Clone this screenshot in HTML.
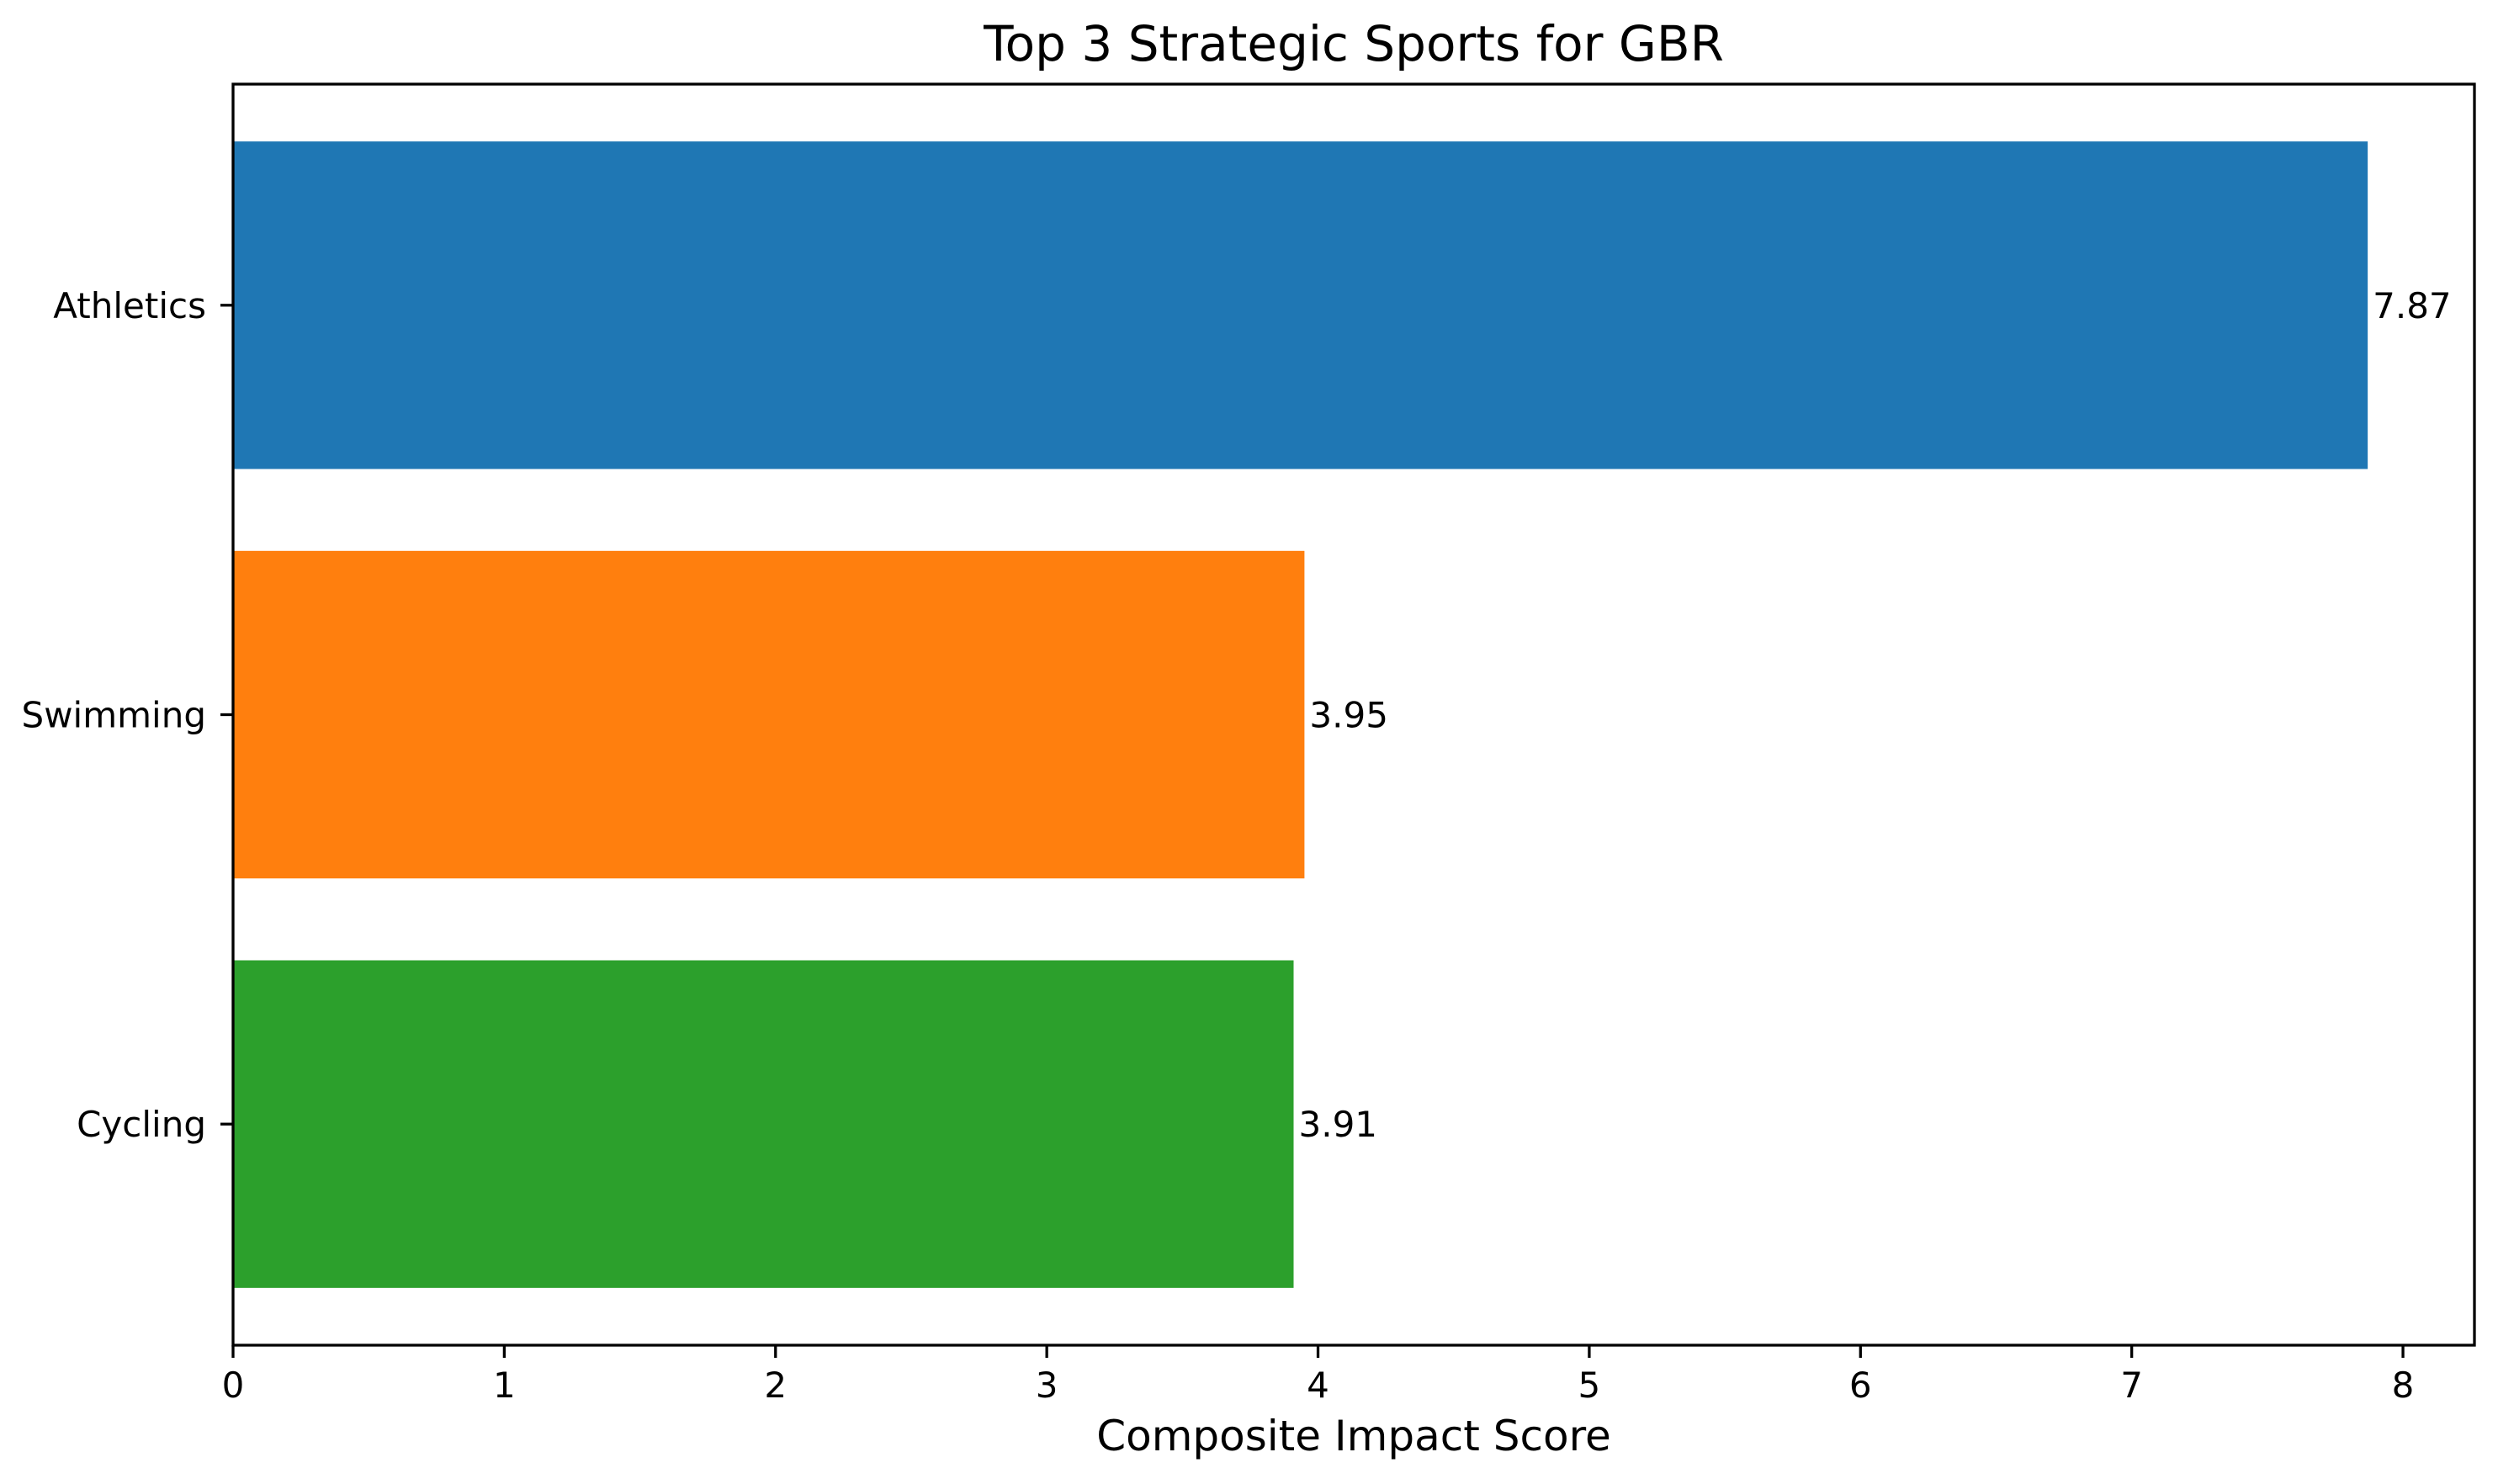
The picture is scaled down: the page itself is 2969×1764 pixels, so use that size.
<!DOCTYPE html>
<html><head><meta charset="utf-8"><style>
html,body{margin:0;padding:0;background:#fff}
svg{display:block;font-family:"DejaVu Sans","Liberation Sans",sans-serif}
</style></head><body>
<svg id="chart" width="2969" height="1764" viewBox="0 0 2969 1764">
<text x="1609" y="72" font-size="58" text-anchor="middle">Top 3 Strategic Sports for GBR</text>
<text x="1609" y="1724" font-size="50" text-anchor="middle">Composite Impact Score</text>
<g id="bars"></g>
<g id="axes"></g>
</svg>
<script>
const categories = ["Athletics","Swimming","Cycling"];
const scores = [7.87, 3.95, 3.91];
const labels = ["7.87","3.95","3.91"];
const xTicks = [0,1,2,3,4,5,6,7,8];
const colors = ["#1f77b4","#ff7f0e","#2ca02c"];
const NS="http://www.w3.org/2000/svg";
const L=277,R=2941,T=100,B=1599;
const xmax=Math.max(...scores)*1.05;
const x=v=>L+v/xmax*(R-L);
const ymin=-0.54,ymax=categories.length-1+0.54;
const y=v=>T+(v-ymin)/(ymax-ymin)*(B-T);
function mk(tag,attrs,parent){const e=document.createElementNS(NS,tag);for(const k in attrs)e.setAttribute(k,attrs[k]);parent.appendChild(e);return e;}
const bars=document.getElementById('bars'),axes=document.getElementById('axes');
categories.forEach((c,i)=>{
  const r=mk('rect',{x:x(0),y:y(i-0.4),width:x(scores[i])-x(0),height:y(i+0.4)-y(i-0.4),fill:colors[i]},bars);
  
  
  const t=mk('text',{x:x(scores[i])+6,y:y(i)+15,'font-size':42},bars);t.textContent=labels[i];
  
  
  const tk=mk('line',{x1:L,x2:L-15,y1:y(i),y2:y(i),stroke:'#000','stroke-width':3.3},axes);
  
  
  const yl=mk('text',{x:L-32,y:y(i)+15,'font-size':42,'text-anchor':'end'},axes);yl.textContent=c;
  
  
});
xTicks.forEach(v=>{
  const tk=mk('line',{x1:x(v),x2:x(v),y1:B,y2:B+15,stroke:'#000','stroke-width':3.3},axes);
  
  
  const tl=mk('text',{x:x(v),y:B+62,'font-size':42,'text-anchor':'middle'},axes);tl.textContent=v;
  
  
});
const frame=mk('rect',{x:L,y:T,width:R-L,height:B-T,fill:'none',stroke:'#000','stroke-width':3.3},axes);


</script>
</body></html>
